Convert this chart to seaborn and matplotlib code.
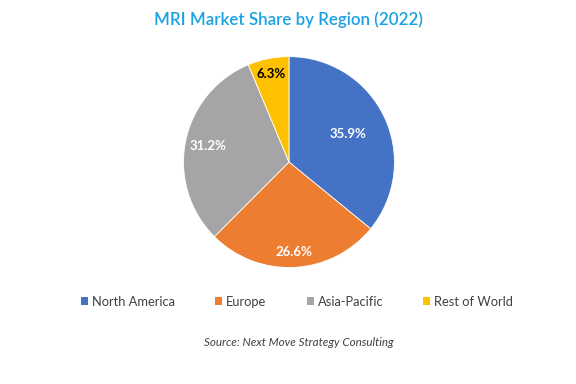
import numpy as np
import seaborn as sns
import matplotlib
matplotlib.use("Agg")
import matplotlib.pyplot as plt
from matplotlib.patches import Patch

regions = ["North America", "Europe", "Asia-Pacific", "Rest of World"]
shares = [35.9, 26.6, 31.2, 6.3]
colors = ["#4472C4", "#ED7D31", "#A5A5A5", "#FFC000"]
label_colors = ["white", "white", "white", "black"]
label_dist = [0.62, 0.85, 0.78, 0.85]

sns.set_theme(style="white")
plt.rcParams['font.family'] = ['Lato', 'DejaVu Sans']

fig = plt.figure(figsize=(5.76, 3.84), dpi=100)
ax = fig.add_axes([0.3177, 0.302, 0.368, 0.552])

wedges, _ = ax.pie(shares, colors=colors, startangle=90, counterclock=False,
                   wedgeprops={'linewidth': 0.6, 'edgecolor': 'white'})
ax.set_xlim(-1.005, 1.005)
ax.set_ylim(-1.005, 1.005)
ax.set_aspect('equal')

# percent labels placed along each wedge's middle angle
for w, val, c, d in zip(wedges, shares, label_colors, label_dist):
    ang = np.deg2rad((w.theta1 + w.theta2) / 2)
    ax.text(d * np.cos(ang), d * np.sin(ang), f"{val}%", ha='center', va='center',
            color=c, fontsize=9.5, fontweight='bold')

fig.text(0.5, 0.948, "MRI Market Share by Region (2022)", ha='center', va='center',
         color='#1BA1E2', fontsize=12.2, fontweight='semibold')

handles = [Patch(facecolor=c, edgecolor='none') for c in colors]
fig.legend(handles, regions, loc='center', bbox_to_anchor=(0.516, 0.214), ncol=4,
           frameon=False, fontsize=9.3, handlelength=0.55, handleheight=0.55,
           handletextpad=0.3, columnspacing=3.1, labelcolor='#404040')

fig.text(0.518, 0.109, "Source: Next Move Strategy Consulting", ha='center', va='center',
         color='#404040', fontsize=8.4, style='italic')

fig.savefig("out.png", dpi=100, facecolor='white')
